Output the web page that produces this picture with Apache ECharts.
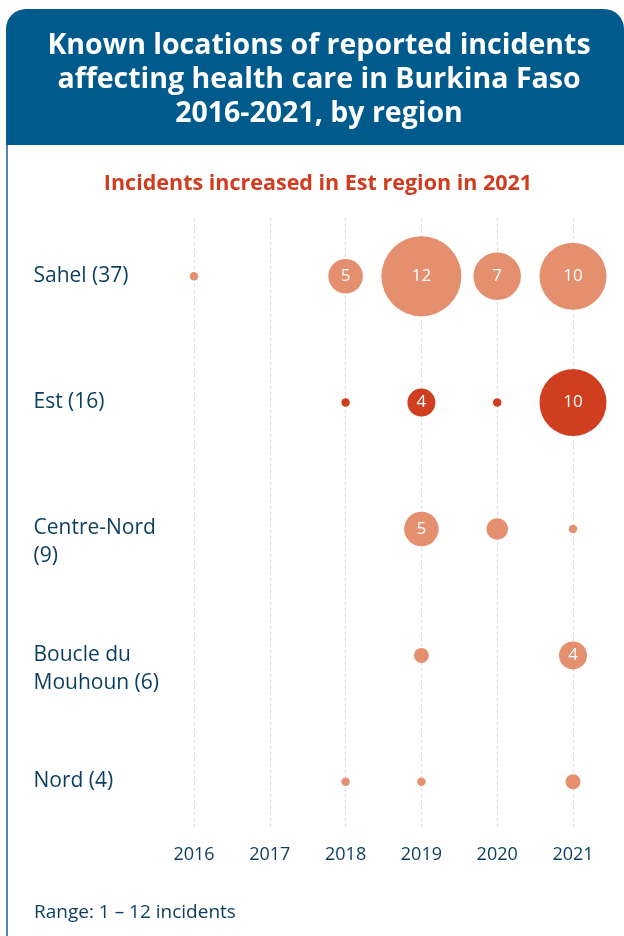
<!DOCTYPE html>
<html>
<head>
<meta charset="utf-8">
<script src="https://cdn.jsdelivr.net/npm/echarts@6/dist/echarts.min.js"></script>
<style>
  html, body { margin: 0; padding: 0; background: #fff; }
  #chart { width: 624px; height: 936px; }
</style>
</head>
<body>
<div id="chart"></div>
<script>
const years = ["2016", "2017", "2018", "2019", "2020", "2021"];
const regions = ["Sahel", "Est", "Centre-Nord", "Boucle du Mouhoun", "Nord"];
const regionLabels = ["Sahel (37)", "Est (16)", "Centre-Nord\n(9)", "Boucle du\nMouhoun (6)", "Nord (4)"];

// incidents per year, 0 = none
const sahel = [1, 0, 5, 12, 7, 10];
const est = [0, 0, 1, 4, 1, 10];
const centreNord = [0, 0, 0, 5, 3, 1];
const boucle = [0, 0, 0, 2, 0, 4];
const nord = [0, 0, 1, 1, 0, 2];

const counts = [sahel, est, centreNord, boucle, nord];
const highlight = "Est";

const chart = echarts.init(document.getElementById("chart"));

const bubbleSeries = regions.map((region, i) => ({
  type: "scatter",
  xAxisIndex: 0,
  yAxisIndex: 0,
  name: region,
  data: counts[i]
    .map((v, j) => [years[j], region, v])
    .filter((d) => d[2] > 0),
  symbolSize: (d) => 6.5 * d[2] + 2,
  itemStyle: { color: region === highlight ? "#cf3e1f" : "#e48f6e", opacity: 1 },
  label: {
    show: true,
    position: "inside",
    color: "#fff",
    fontSize: 17,
    fontFamily: "Open Sans",
    formatter: (p) => (p.value[2] >= 4 ? p.value[2] : ""),
  },
  emphasis: { disabled: true },
  z: 3,
}));

// region names, placed left of the first column
const labelSeries = {
  type: "scatter",
  xAxisIndex: 0,
  yAxisIndex: 0,
  data: regions.map((r) => [years[0], r]),
  symbolSize: 1,
  itemStyle: { color: "transparent", opacity: 1 },
  label: {
    show: true,
    position: [0, 0],
    offset: [-160, -14],
    align: "left",
    verticalAlign: "top",
    color: "#0a3d5e",
    fontSize: 21,
    lineHeight: 28,
    fontFamily: "Open Sans",
    formatter: (p) => regionLabels[p.dataIndex],
  },
  emphasis: { disabled: true },
  silent: true,
};

const option = {
  animation: false,
  graphic: [
    {
      type: "rect",
      shape: { x: 6, y: 9, width: 618, height: 136, r: [20, 20, 0, 0] },
      style: { fill: "#005a8c" },
    },
    {
      type: "line",
      shape: { x1: 7, y1: 145, x2: 7, y2: 936 },
      style: { stroke: "#4d87b5", lineWidth: 2 },
    },
    {
      type: "text",
      x: 319,
      y: 80,
      style: {
        text: "Known locations of reported incidents\naffecting health care in Burkina Faso\n2016-2021, by region",
        align: "center",
        verticalAlign: "middle",
        fill: "#fff",
        fontSize: 28.5,
        fontWeight: "bold",
        lineHeight: 34,
        fontFamily: "Open Sans",
      },
    },
    {
      type: "text",
      x: 318,
      y: 184,
      style: {
        text: "Incidents increased in Est region in 2021",
        align: "center",
        verticalAlign: "middle",
        fill: "#d03c1f",
        fontSize: 21.5,
        fontWeight: "bold",
        fontFamily: "Open Sans",
      },
    },
    {
      type: "text",
      x: 34,
      y: 913,
      style: {
        text: "Range: 1 \u2013 12 incidents",
        align: "left",
        verticalAlign: "middle",
        fill: "#0a3d5e",
        fontSize: 19,
        fontFamily: "Open Sans",
      },
    },
  ],
  grid: [
    { left: 194, right: 51, top: 213, bottom: 91 },
    { left: 194, right: 51, top: 218, bottom: 108 },
  ],
  xAxis: [
    {
      gridIndex: 0,
      type: "category",
      data: years,
      boundaryGap: false,
      show: false,
    },
    {
      gridIndex: 1,
      type: "category",
      data: years,
      boundaryGap: false,
      axisLine: { show: false },
      axisTick: { show: false },
      axisLabel: {
        margin: 18,
        color: "#0a3d5e",
        fontSize: 18,
        fontFamily: "Open Sans",
      },
      splitLine: {
        show: true,
        lineStyle: { color: "#dadada", type: [3, 3], width: 1 },
      },
    },
  ],
  yAxis: [
    {
      gridIndex: 0,
      type: "category",
      data: regions,
      inverse: true,
      show: false,
    },
    {
      gridIndex: 1,
      type: "value",
      show: false,
    },
  ],
  series: [...bubbleSeries, labelSeries],
};

chart.setOption(option);
</script>
</body>
</html>
